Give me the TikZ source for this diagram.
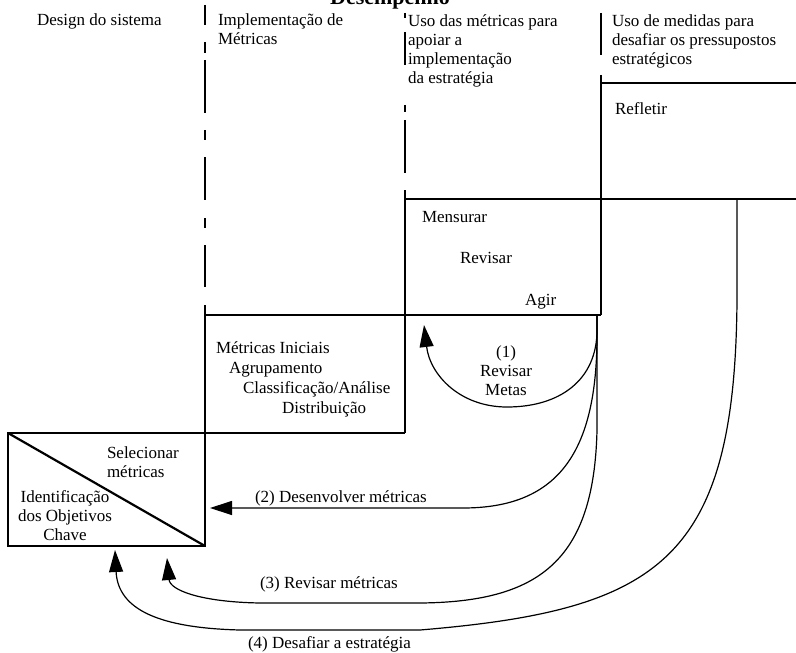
\documentclass[tikz,border=0pt]{standalone}
\usepackage{fontspec}
\setmainfont{Liberation Serif}
\usetikzlibrary{arrows.meta}
\begin{document}
\begin{tikzpicture}[x=1bp,y=-1bp,
  lbl/.style={inner sep=0pt, outer sep=0pt, anchor=base west,
    font=\fontsize{17bp}{19bp}\selectfont, align=left},
  wall/.style={line width=1.8bp},
  flow/.style={line width=1.2bp},
  head/.style={-{Triangle[length=22bp,width=14bp]}},
]
\clip (0,0) rectangle (796,653);
\fill[white] (0,0) rectangle (796,653);

% ---- stair-shaped frame of the four phases ----
\draw[wall] (8,433) rectangle (205,546);
\draw[line width=2.2bp] (8,433) -- (205,546);
\draw[wall] (205,433) -- (405,433);
\draw[wall] (205,305) -- (205,433);
\draw[wall] (205,315) -- (601,315);
\draw[wall] (405,190) -- (405,433);
\draw[wall] (405,199) -- (796,199);
\draw[wall] (601,75) -- (601,315);
\draw[wall] (601,83) -- (796,83);

% ---- broken column separators ----
\foreach \a/\b in {5/25, 42/53, 60/113, 130/140, 157/200, 218/228, 245/287}
  \draw[wall] (205,\a) -- (205,\b);
\foreach \a/\b in {13/18, 32/65, 105/112, 120/173}
  \draw[wall] (405,\a) -- (405,\b);
\draw[wall] (601,13) -- (601,55);

% ---- texts (multi-line nodes are placed by their last baseline) ----
\node[lbl, anchor=base, font=\fontsize{22bp}{24bp}\selectfont\bfseries] (ttl) at (390,5) {Desempenho};
\node[lbl] (c1) at (37,26) {Design do sistema};
\node[lbl] (c2) at (218,45) {Implementação de\\Métricas};
\node[lbl] (c3) at (408,84) {Uso das métricas para\\apoiar a\\implementação\\da estratégia};
\node[lbl] (c4) at (612,65) {Uso de medidas para\\desafiar os pressupostos\\estratégicos};
\node[lbl] (refl) at (615,115) {Refletir};
\node[lbl] (mens) at (422,222) {Mensurar};
\node[lbl] (rev) at (460,263) {Revisar};
\node[lbl] (agir) at (525,305) {Agir};
\node[lbl, font=\fontsize{17bp}{20bp}\selectfont] (mini) at (216,413)
  {Métricas Iniciais\\\hspace*{13bp}Agrupamento\\\hspace*{27bp}Classificação/Análise\\\hspace*{66bp}Distribuição};
\node[lbl] (sel) at (107,477) {Selecionar\\métricas};
\node[lbl, anchor=base, align=center] (obj) at (65,540) {Identificação\\dos Objetivos\\Chave};
\node[lbl, anchor=base, align=center] (l1) at (506,395) {(1)\\Revisar\\Metas};
\node[lbl] (l2) at (255,502) {(2) Desenvolver métricas};
\node[lbl] (l3) at (260,588) {(3) Revisar métricas};
\node[lbl] (l4) at (248,648) {(4) Desafiar a estratégia};

% ---- feedback loops ----
\coordinate (act) at (597,315);
\coordinate (up) at (737,199);
\coordinate (t1) at (424,325);
\coordinate (t2) at (210,508);
\coordinate (t3) at (167,558);
\coordinate (t4) at (115,550);

\draw[flow, head] (act) -- (597,330)
  .. controls (597,380) and (560,407) .. (507,407)
  .. controls (460,407) and (430,375) .. (t1);
\draw[flow, head] (act) -- (597,335)
  .. controls (597,450) and (560,508) .. (463,508) -- (t2);
\draw[flow, head] (act) -- (597,430)
  .. controls (594,560) and (540,602) .. (420,603) -- (260,603)
  .. controls (200,602) and (170,590) .. (t3);
\draw[flow, head] (up) -- (737,300)
  .. controls (735,560) and (660,610) .. (420,630) -- (240,630)
  .. controls (160,628) and (118,610) .. (t4);
\end{tikzpicture}
\end{document}
